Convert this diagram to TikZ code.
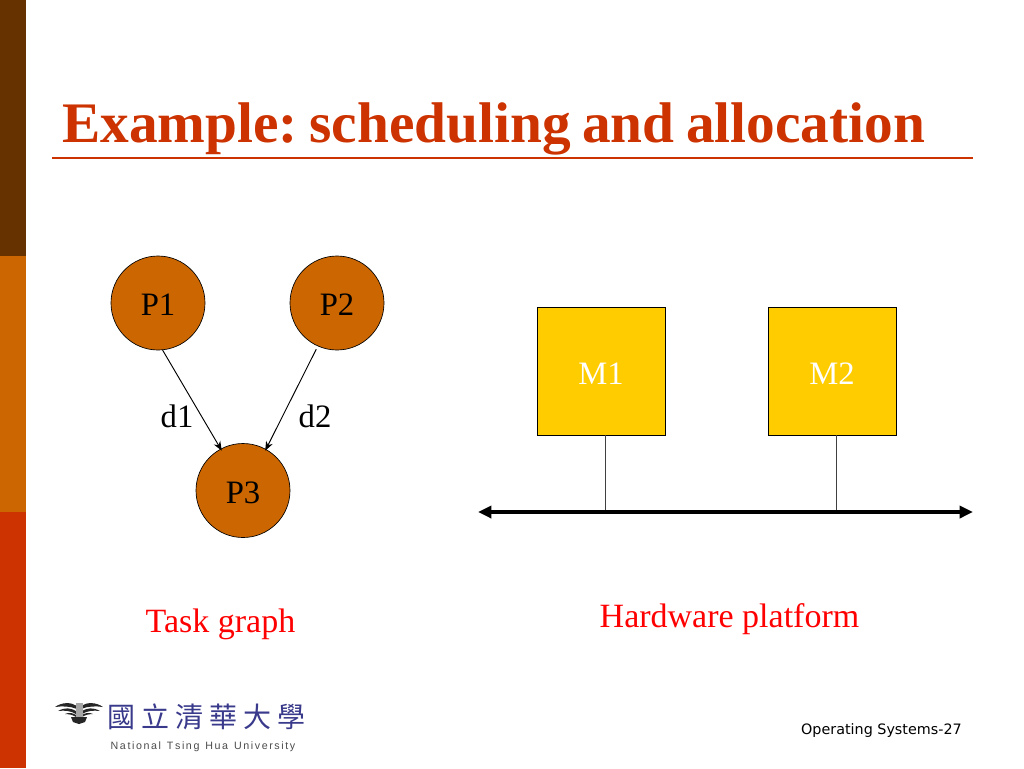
\documentclass[tikz,border=0pt]{standalone}
\usepackage{fontspec}
\usetikzlibrary{arrows.meta}
\setmainfont{Liberation Serif}
\setsansfont{DejaVu Sans}
\newfontfamily\cjk{Noto Sans CJK TC}
\newfontfamily\arialfam{Liberation Sans}
\definecolor{brownbar}{HTML}{663300}
\definecolor{orangebar}{HTML}{CC6600}
\definecolor{redbar}{HTML}{CC3300}
\definecolor{memfill}{HTML}{FFCC00}
\definecolor{logoblue}{HTML}{3A3A8C}
\tikzset{
  task/.style={circle,draw=black,line width=0.5pt,fill=orangebar,minimum size=70.5pt,inner sep=0pt,text height=19pt,text depth=0pt,font=\fontsize{24.5}{24.5}\selectfont},
  mem/.style={rectangle,draw=black,line width=0.5pt,fill=memfill,minimum size=96pt,inner sep=0pt,text=white,text height=19.5pt,text depth=0pt,font=\fontsize{24.5}{24.5}\selectfont},
  lbl/.style={inner sep=0pt,anchor=base,font=\fontsize{24.5}{24.5}\selectfont},
  red lbl/.style={inner sep=0pt,anchor=base,text=red,font=\fontsize{25.5}{25.5}\selectfont},
  conn/.style={line width=0.7pt,-{Stealth[length=7pt,width=5.5pt]}},
  stub/.style={line width=0.4pt,draw=black!75},
  bus/.style={line width=2.7pt,{Triangle[length=10pt,width=9pt]}-{Triangle[length=10pt,width=9pt]}}
}
\begin{document}
\begin{tikzpicture}[x=0.75pt,y=-0.75pt]
\useasboundingbox (0,0) rectangle (1024,768);
\fill[white] (0,0) rectangle (1024,768);
\fill[brownbar] (0,0) rectangle (26,256);
\fill[orangebar] (0,256) rectangle (26,512);
\fill[redbar] (0,512) rectangle (26,768);
\node[anchor=base west,inner sep=0pt,text=redbar,font=\fontsize{43}{43}\selectfont\bfseries] (title) at (62,142) {\frenchspacing\spaceskip 8.6pt Example: scheduling and allocation};
\draw[redbar,line width=1.5pt] (52,158) -- (973,158);
\node[task] (P1) at (158,303) {P1};
\node[task] (P2) at (337,303) {P2};
\node[task] (P3) at (243,490.5) {P3};
\draw[conn] ([shift={(0.5,0)}]P1.-85) -- ([shift={(1,2)}]P3.118);
\draw[conn] ([shift={(-1.5,3)}]P2.-114.5) -- ([shift={(0,2)}]P3.62);
\node[lbl] (d1) at (177,427.5) {d1};
\node[lbl] (d2) at (315,427.5) {d2};
\node[red lbl] (tg) at (220.5,632) {Task graph};
\node[mem] (M1) at (601,371) {M1};
\node[mem] (M2) at (832,371) {M2};
\coordinate (busl) at (478,512);
\coordinate (busr) at (973,512);
\coordinate (busa) at (605.5,512);
\coordinate (busb) at (836.5,512);
\draw[stub] (M1.south -| busa) -- (busa);
\draw[stub] (M2.south -| busb) -- (busb);
\draw[bus] (busl) -- (busr);
\node[red lbl] (hw) at (729.5,627) {Hardware platform};
% emblem
\fill[black!85] (55,707) .. controls (62,702) and (71,702) .. (77,706) -- (77,709) .. controls (70,706) and (62,706) .. (55,707) -- cycle;
\fill[black!85] (103,707) .. controls (96,702) and (87,702) .. (81,706) -- (81,709) .. controls (88,706) and (96,706) .. (103,707) -- cycle;
\fill[black!85] (58,711) .. controls (65,707) and (71,708) .. (76,711) -- (76,714) .. controls (71,711) and (65,710) .. (58,711) -- cycle;
\fill[black!85] (100,711) .. controls (93,707) and (87,708) .. (82,711) -- (82,714) .. controls (87,711) and (93,710) .. (100,711) -- cycle;
\fill[black!85] (65,714) .. controls (69,712) and (73,713) .. (76,715) -- (76,717) .. controls (73,715) and (69,714) .. (65,714) -- cycle;
\fill[black!85] (93,714) .. controls (89,712) and (85,713) .. (82,715) -- (82,717) .. controls (85,715) and (89,714) .. (93,714) -- cycle;
\fill[black!85] (71,717) -- (87,717) -- (85,722) -- (79,724) -- (73,722) -- cycle;
\fill[black!35] (76,703) rectangle (83,717);
\node[anchor=center,inner sep=0pt,text=logoblue,font=\cjk\fontsize{21}{21}\selectfont] (logo) at (206.5,717) {國\hspace{4.6pt}立\hspace{4.6pt}清\hspace{4.6pt}華\hspace{4.6pt}大\hspace{4.6pt}學};
\node[anchor=base,inner sep=0pt,text=black!70,font=\arialfam\fontsize{8}{9}\selectfont] (nthu) at (203,749) {N\kern1.2pt a\kern1.2pt t\kern1.2pt i\kern1.2pt o\kern1.2pt n\kern1.2pt a\kern1.2pt l\ \ T\kern1.2pt s\kern1.2pt i\kern1.2pt n\kern1.2pt g\ \ H\kern1.2pt u\kern1.2pt a\ \ U\kern1.2pt n\kern1.2pt i\kern1.2pt v\kern1.2pt e\kern1.2pt r\kern1.2pt s\kern1.2pt i\kern1.2pt t\kern1.2pt y};
\node[anchor=base east,inner sep=0pt,font=\sffamily\fontsize{10.75}{12}\selectfont] (foot) at (962,734) {Operating Systems-27};
\end{tikzpicture}
\end{document}
